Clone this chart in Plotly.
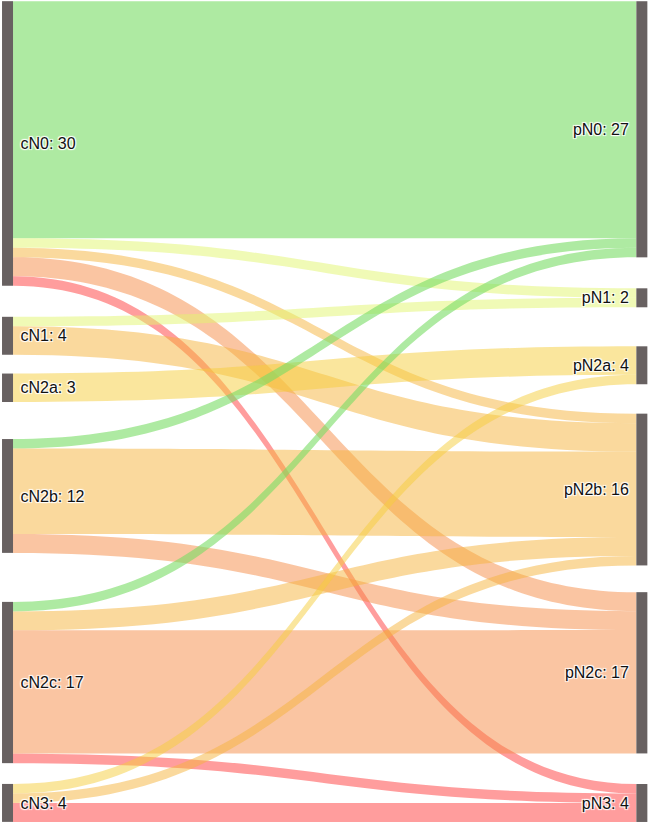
import plotly.graph_objects as go

left_nodes = ["cN0", "cN1", "cN2a", "cN2b", "cN2c", "cN3"]
left_totals = [30, 4, 3, 12, 17, 4]
right_nodes = ["pN0", "pN1", "pN2a", "pN2b", "pN2c", "pN3"]
right_totals = [27, 2, 4, 16, 17, 4]

link_source = ["cN0", "cN0", "cN0", "cN0", "cN0",
               "cN1", "cN1",
               "cN2a",
               "cN2b", "cN2b", "cN2b",
               "cN2c", "cN2c", "cN2c", "cN2c",
               "cN3", "cN3", "cN3"]
link_target = ["pN0", "pN1", "pN2b", "pN2c", "pN3",
               "pN1", "pN2b",
               "pN2a",
               "pN0", "pN2b", "pN2c",
               "pN0", "pN2b", "pN2c", "pN3",
               "pN2a", "pN2b", "pN3"]
link_value = [25, 1, 1, 2, 1,
              1, 3,
              3,
              1, 9, 2,
              1, 2, 13, 1,
              1, 1, 2]

# node centre positions (normalized)
left_y = [0.1741, 0.4075, 0.4706, 0.6019, 0.8283, 0.9744]
right_y = [0.1569, 0.3614, 0.4433, 0.5941, 0.8165, 0.9745]
left_x = 0.0116
right_x = 0.989

target_colors = {
    "pN0": "rgba(120,220,100,0.6)",
    "pN1": "rgba(225,245,110,0.5)",
    "pN2a": "rgba(245,205,60,0.5)",
    "pN2b": "rgba(245,180,60,0.5)",
    "pN2c": "rgba(245,140,70,0.5)",
    "pN3": "rgba(255,60,60,0.5)",
}

NB = "\u00a0"
nodes = left_nodes + right_nodes
labels = ([f"{NB}{n}: {t}" for n, t in zip(left_nodes, left_totals)]
          + [f"{n}: {t}{NB}" for n, t in zip(right_nodes, right_totals)])
idx = {n: i for i, n in enumerate(nodes)}

fig = go.Figure(go.Sankey(
    arrangement="fixed",
    node=dict(
        label=labels,
        x=[left_x] * len(left_nodes) + [right_x] * len(right_nodes),
        y=left_y + right_y,
        color="#686161",
        thickness=11,
        pad=32,
        line=dict(width=0),
    ),
    link=dict(
        source=[idx[s] for s in link_source],
        target=[idx[t] for t in link_target],
        value=link_value,
        color=[target_colors[t] for t in link_target],
    ),
    textfont=dict(family="Liberation Sans, Arial, sans-serif", size=16, color="#111"),
))

fig.update_layout(
    width=649, height=824,
    margin=dict(l=0, r=0, t=0, b=0),
    paper_bgcolor="white",
)

fig.write_html(
    "out.html",
    config={"displayModeBar": False},
    post_script="document.body.style.margin='0';document.body.style.overflow='hidden';",
)
